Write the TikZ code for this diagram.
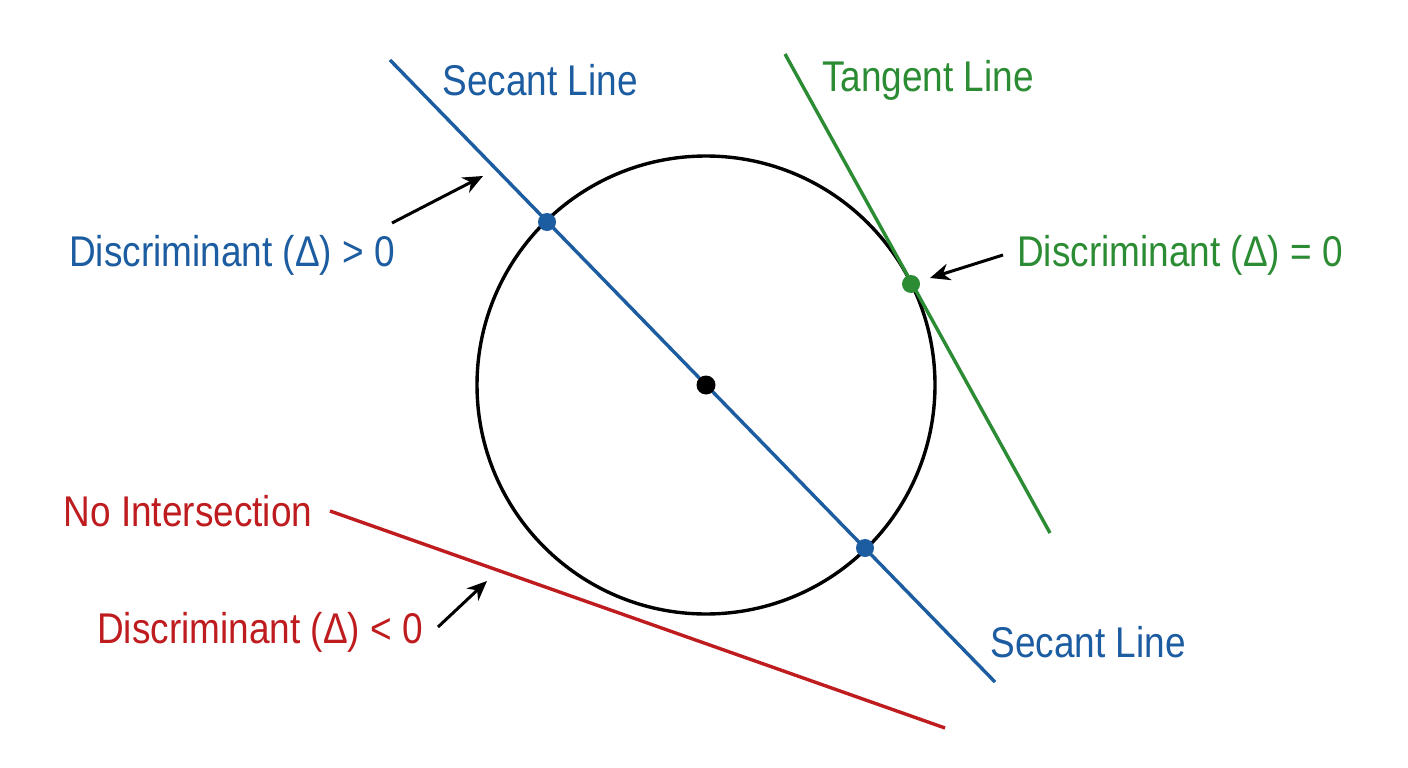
\documentclass[tikz,border=0pt]{standalone}
\usepackage{fontspec}
\usetikzlibrary{arrows.meta}
\setmainfont{Liberation Sans}[FakeStretch=0.86]
\definecolor{cb}{RGB}{28,92,160}
\definecolor{cg}{RGB}{44,140,52}
\definecolor{cr}{RGB}{190,28,30}
\begin{document}
\begin{tikzpicture}[x=1pt,y=-1pt,
  lbl/.style={font=\fontsize{43}{46}\selectfont},
  dot/.style={circle,fill,inner sep=0pt,minimum size=18pt},
  ln/.style={line width=3.4pt},
  arr/.style={line width=3pt,-{Stealth[length=20pt,width=17pt]}}]
\useasboundingbox (0,0) rectangle (1408,768);
\fill[white] (0,0) rectangle (1408,768);
\node[draw,circle,line width=3.4pt,minimum size=458pt,inner sep=0pt] (C) at (706,385) {};
\coordinate (b1) at (390,60); \coordinate (b2) at (995,682);
\coordinate (g1) at (785,54); \coordinate (g2) at (1050,533);
\coordinate (r1) at (330,511); \coordinate (r2) at (945,728);
\draw[ln,cb] (b1) -- (b2);
\draw[ln,cg] (g1) -- (g2);
\draw[ln,cr] (r1) -- (r2);
\node[dot,black,minimum size=19pt] (O) at (706,385) {};
\node[dot,cb] (P1) at (547,222) {};
\node[dot,cb] (P2) at (865,548) {};
\node[dot,cg] (T) at (911,284) {};
\node[lbl,cb] (s1) at (540,80) {Secant Line};
\node[lbl,cg] (t1) at (928,80) {Tangent Line};
\node[lbl,cb] (d1) at (232,255) {Discriminant (Δ) > 0};
\node[lbl,cg] (d2) at (1180,255) {Discriminant (Δ) = 0};
\node[lbl,cr] (n1) at (188,511) {No Intersection};
\node[lbl,cr] (d3) at (260,632) {Discriminant (Δ) < 0};
\node[lbl,cb] (s2) at (1088,642) {Secant Line};
\coordinate (a1s) at (392,223); \coordinate (a1e) at (483,176);
\coordinate (a2s) at (1003,255); \coordinate (a2e) at (930,278);
\coordinate (a3s) at (438,627); \coordinate (a3e) at (487,581);
\draw[arr] (a1s) -- (a1e);
\draw[arr] (a2s) -- (a2e);
\draw[arr] (a3s) -- (a3e);
\end{tikzpicture}
\end{document}
